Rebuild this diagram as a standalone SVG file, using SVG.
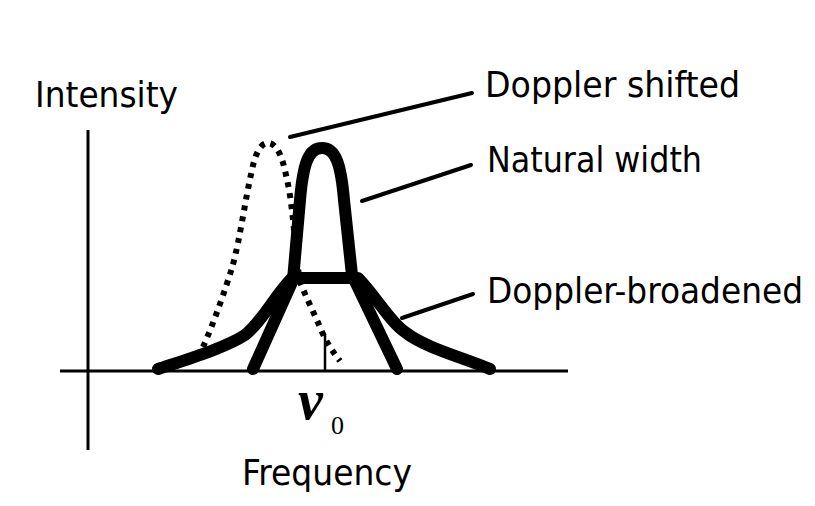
<svg xmlns="http://www.w3.org/2000/svg" width="815" height="506" viewBox="0 0 815 506">
<style>
.lbl{font-family:"DejaVu Sans Condensed","DejaVu Sans",sans-serif;font-size:36px;fill:#000}
.axis{stroke:#000;fill:none;stroke-width:3}
.thick{stroke:#000;fill:none;stroke-width:12;stroke-linejoin:round;stroke-linecap:round}
.dot{stroke:#000;fill:none;stroke-width:6;stroke-dasharray:5 6}
.lead{stroke:#000;fill:none;stroke-width:4;stroke-linecap:round}
</style>
<rect width="815" height="506" fill="#fff"/>
<g id="axes">
<line class="axis" x1="88" y1="130" x2="88" y2="450"/>
<line class="axis" x1="60" y1="371" x2="568" y2="371"/>
<line x1="325" y1="334" x2="325" y2="371" stroke="#000" stroke-width="2.5"/>
</g>
<g id="doppler-shifted-curve">
<path class="dot" d="M 203 347 C 215 320 225 290 232 268 C 240 240 245 200 252 170 C 256 150 262 143 268 143 C 276 143 282 155 286 175 C 292 200 294 230 296 255 L 300 282 C 306 297 315 315 322 332 C 328 345 333 352 340 361"/>
</g>
<g id="natural-width-curve">
<path class="thick" d="M 253 369 L 293 280 L 300 200 C 303 165 308 148 322 148 C 336 148 341 165 344 200 L 352 275 L 397 369"/>
</g>
<g id="doppler-broadened-curve">
<path class="thick" d="M 158 369 C 185 360 225 348 245 335 C 262 322 275 295 292 278 L 358 278 C 375 295 390 322 405 332 C 425 348 465 358 490 369"/>
</g>
<g id="connectors">
<line class="lead" x1="290" y1="137" x2="472" y2="93"/>
<line class="lead" x1="362" y1="201" x2="471" y2="165"/>
<line class="lead" x1="402" y1="318" x2="473" y2="294"/>
</g>
<g id="label-intensity"><text class="lbl" x="35" y="107" textLength="143" lengthAdjust="spacingAndGlyphs">Intensity</text></g>
<g id="label-doppler-shifted"><text class="lbl" x="485" y="97" textLength="255" lengthAdjust="spacingAndGlyphs">Doppler shifted</text></g>
<g id="label-natural-width"><text class="lbl" x="487" y="172" textLength="215" lengthAdjust="spacingAndGlyphs">Natural width</text></g>
<g id="label-doppler-broadened"><text class="lbl" x="487" y="303" textLength="316" lengthAdjust="spacingAndGlyphs">Doppler-broadened</text></g>
<g id="label-nu0"><text x="298" y="419" font-family="Liberation Serif,serif" font-size="56" font-weight="bold" font-style="italic">ν</text><text x="331" y="434" font-family="Liberation Serif,serif" font-size="26">0</text></g>
<g id="label-frequency"><text class="lbl" x="242" y="485" textLength="170" lengthAdjust="spacingAndGlyphs">Frequency</text></g>
</svg>
